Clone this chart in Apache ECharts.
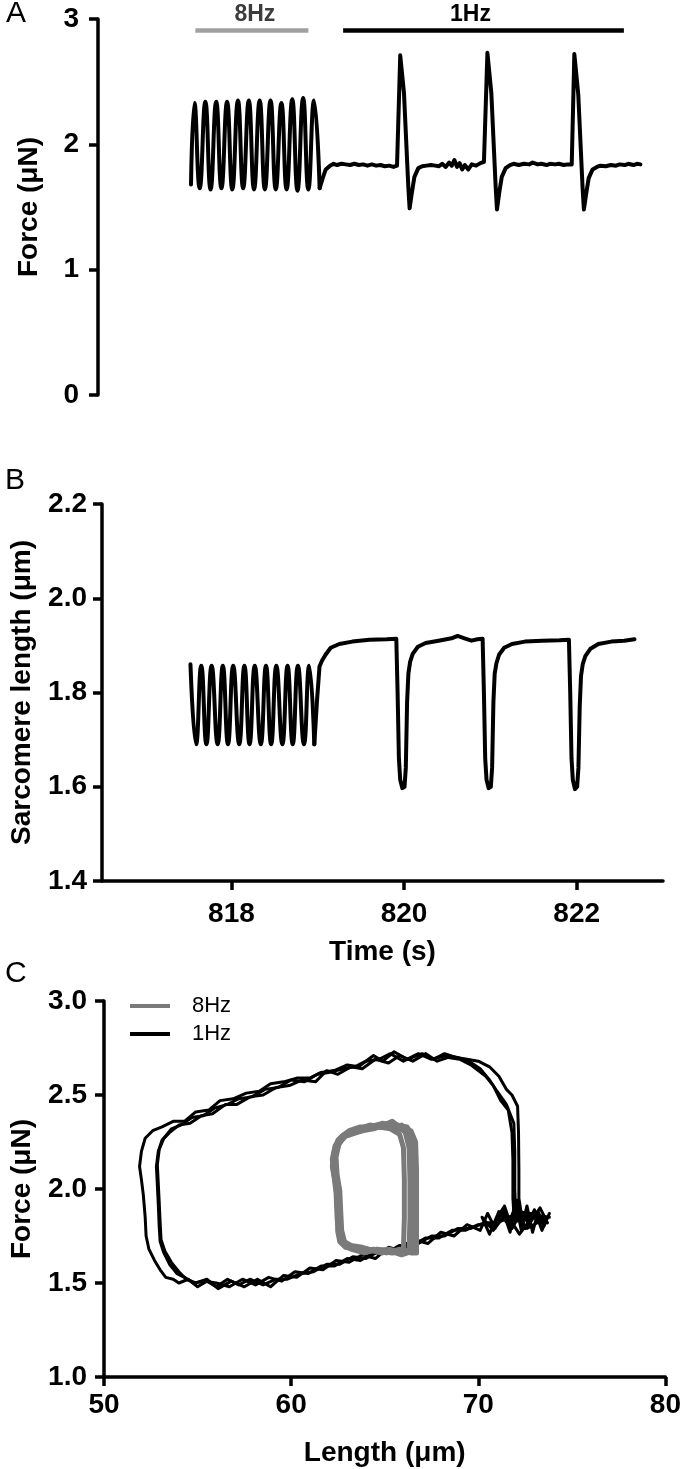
<!DOCTYPE html>
<html>
<head>
<meta charset="utf-8">
<script src="https://cdn.jsdelivr.net/npm/echarts@6/dist/echarts.min.js"></script>
<style>
html,body{margin:0;padding:0;background:#fff;}
#chart{width:684px;height:1469px;}
</style>
</head>
<body>
<div id="chart"></div>
<script>
// ---------- DATA ----------
// Panel A: force (µN) vs time (s)
const force8HzTrace = [
  [817.57,1.68],[817.61,2.33],[817.67,1.65],[817.735,2.34],[817.795,1.64],[817.86,2.34],
  [817.92,1.65],[817.985,2.34],[818.045,1.64],[818.11,2.35],[818.17,1.65],[818.235,2.35],
  [818.295,1.64],[818.36,2.35],[818.42,1.64],[818.485,2.35],[818.545,1.64],[818.61,2.33],
  [818.67,1.64],[818.735,2.36],[818.795,1.63],[818.86,2.37],[818.92,1.64],[818.985,2.35],
  [819.05,1.65]
];
const force1HzTrace = [
  [819.05,1.65],[819.085,1.73],[819.12,1.80],[819.17,1.83],[819.21,1.845],[819.25,1.835],
  [819.3,1.845],[819.35,1.84],[819.4,1.835],[819.45,1.845],[819.5,1.835],[819.55,1.84],
  [819.6,1.83],[819.65,1.84],[819.7,1.83],[819.75,1.835],[819.8,1.825],[819.85,1.83],
  [819.9,1.82],[819.94,1.83],
  [819.96,1.84],[819.977,2.71],[820.02,2.41],[820.05,1.96],[820.07,1.66],[820.085,1.49],
  [820.11,1.61],[820.14,1.74],[820.185,1.81],[820.23,1.825],[820.28,1.83],[820.33,1.835],
  [820.38,1.83],[820.42,1.825],[820.46,1.845],[820.5,1.82],[820.54,1.855],[820.57,1.83],
  [820.6,1.875],[820.63,1.82],[820.66,1.85],[820.69,1.80],[820.72,1.835],[820.76,1.80],
  [820.8,1.84],[820.85,1.83],[820.9,1.85],[820.94,1.86],
  [820.96,1.86],[820.98,2.73],[821.025,2.41],[821.055,1.96],[821.075,1.66],[821.09,1.48],
  [821.115,1.61],[821.145,1.74],[821.19,1.81],[821.24,1.835],[821.28,1.845],[821.34,1.835],
  [821.4,1.845],[821.46,1.84],[821.5,1.855],[821.56,1.84],[821.6,1.845],[821.66,1.835],
  [821.7,1.845],[821.76,1.84],[821.8,1.845],[821.86,1.835],[821.9,1.84],[821.95,1.84],
  [821.96,1.84],[821.98,2.72],[822.025,2.40],[822.055,1.95],[822.075,1.65],[822.09,1.48],
  [822.115,1.60],[822.145,1.73],[822.19,1.80],[822.24,1.82],[822.28,1.83],[822.34,1.825],
  [822.4,1.835],[822.46,1.83],[822.5,1.84],[822.56,1.835],[822.6,1.845],[822.66,1.835],
  [822.7,1.845],[822.74,1.84]
];
// stimulation period bars
const stimLabels = ['8Hz', '1Hz'];
const stimStart = [817.62, 819.32];
const stimEnd = [818.92, 822.55];
const stimLevel = 2.91;

// Panel B: sarcomere length (µm) vs time (s)
const sl8HzTrace = [
  [817.525,1.86],[817.59,1.69],[817.65,1.857],[817.71,1.69],[817.77,1.857],[817.84,1.69],
  [817.90,1.857],[817.96,1.69],[818.02,1.857],[818.09,1.69],[818.15,1.857],[818.21,1.69],
  [818.27,1.857],[818.34,1.69],[818.40,1.857],[818.46,1.69],[818.52,1.857],[818.59,1.69],
  [818.65,1.857],[818.71,1.69],[818.77,1.857],[818.84,1.69],[818.90,1.857],[818.96,1.69]
];
const sl1HzTrace = [
  [818.96,1.69],[818.99,1.78],[819.02,1.855],[819.05,1.868],[819.09,1.88],[819.15,1.895],
  [819.25,1.903],[819.4,1.908],[819.6,1.912],[819.8,1.913],[819.91,1.914],
  [819.925,1.80],[819.94,1.66],[819.955,1.615],[819.98,1.597],[820.005,1.60],[820.02,1.64],
  [820.035,1.78],[820.05,1.84],[820.07,1.865],[820.10,1.882],[820.16,1.897],[820.25,1.905],
  [820.4,1.91],[820.55,1.915],[820.62,1.92],[820.7,1.915],[820.78,1.91],[820.85,1.913],[820.91,1.914],
  [820.925,1.80],[820.94,1.66],[820.955,1.615],[820.98,1.597],[821.005,1.60],[821.02,1.64],
  [821.035,1.78],[821.05,1.84],[821.07,1.862],[821.10,1.88],[821.16,1.895],[821.25,1.903],
  [821.4,1.908],[821.6,1.91],[821.8,1.911],[821.91,1.912],
  [821.925,1.80],[821.94,1.66],[821.955,1.615],[821.98,1.595],[822.005,1.60],[822.02,1.64],
  [822.035,1.77],[822.05,1.835],[822.07,1.86],[822.10,1.877],[822.16,1.893],[822.25,1.903],
  [822.4,1.908],[822.55,1.91],[822.67,1.913]
];
const timeTicks = [818, 820, 822];

// Panel C: force (µN) vs length (µm) loops
const loop1Hz_a = [
  [73.6,1.84],[72.9,1.86],[72.3,1.87],[72.17,1.95],[72.17,2.10],[72.15,2.30],[72.1,2.44],
  [71.8,2.50],[71.5,2.53],[71.1,2.60],[70.6,2.65],[70.0,2.68],[69.4,2.69],[68.8,2.70],
  [68.2,2.72],[67.6,2.69],[67.0,2.72],[66.2,2.69],[65.5,2.73],[64.9,2.68],[64.4,2.71],
  [63.6,2.65],[63.0,2.66],[62.3,2.63],[61.6,2.62],[61.0,2.59],[60.3,2.59],[59.6,2.57],
  [58.9,2.56],[58.3,2.52],[57.6,2.51],[56.9,2.48],[56.2,2.47],[55.6,2.42],[54.9,2.41],
  [54.3,2.36],[53.7,2.36],[53.1,2.33],[52.6,2.31],[52.2,2.27],[52.0,2.20],[51.9,2.12],
  [52.0,2.05],[52.1,1.97],[52.2,1.85],[52.25,1.75],[52.4,1.68],[52.7,1.62],[53.0,1.57],
  [53.3,1.53],[53.7,1.52],[54.0,1.50],[54.5,1.52],[55.0,1.48],[55.5,1.51],[56.0,1.48],
  [56.6,1.52],[57.2,1.49],[57.8,1.52],[58.5,1.49],[59.2,1.52],[59.8,1.52],[60.5,1.55],
  [61.2,1.56],[61.9,1.60],[62.6,1.60],[63.3,1.64],[64.0,1.63],[64.7,1.67],[65.4,1.67],
  [66.1,1.71],[66.8,1.71],[67.5,1.75],[68.2,1.75],[68.9,1.79],[69.6,1.79],[70.3,1.82],
  [71.0,1.82],[71.7,1.85],[72.4,1.84],[73.1,1.86],[73.8,1.85]
];
const loop1Hz_b = [
  [73.2,1.85],[72.5,1.84],[71.9,1.87],[71.85,1.95],[71.85,2.15],[71.8,2.30],[71.6,2.42],
  [71.2,2.47],[70.8,2.55],[70.4,2.60],[70.0,2.63],[69.6,2.66],[69.0,2.69],[68.4,2.70],
  [67.8,2.68],[67.2,2.72],[66.5,2.68],[65.8,2.71],[65.2,2.67],[64.5,2.69],[63.8,2.64],
  [63.2,2.65],[62.5,2.61],[61.9,2.63],[61.3,2.57],[60.6,2.58],[59.9,2.55],[59.2,2.54],
  [58.5,2.50],[57.8,2.49],[57.1,2.45],[56.5,2.45],[55.8,2.40],[55.2,2.39],[54.6,2.35],
  [54.0,2.34],[53.5,2.30],[53.1,2.26],[52.9,2.20],[52.8,2.12],[52.85,2.02],[52.9,1.92],
  [52.95,1.80],[53.0,1.72],[53.2,1.66],[53.5,1.60],[53.9,1.55],[54.3,1.53],[54.8,1.50],
  [55.4,1.51],[56.0,1.50],[56.7,1.48],[57.4,1.52],[58.1,1.49],[58.8,1.53],[59.5,1.51],
  [60.2,1.56],[60.9,1.55],[61.6,1.59],[62.3,1.59],[63.0,1.63],[63.7,1.62],[64.4,1.66],
  [65.1,1.66],[65.8,1.70],[66.5,1.70],[67.2,1.74],[67.9,1.74],[68.6,1.78],[69.3,1.78],
  [70.0,1.81],[70.7,1.81],[71.4,1.84],[72.1,1.83],[72.8,1.86],[73.5,1.83]
];
const loop1Hz_c = [
  [73.5,1.83],[72.8,1.87],[72.0,1.88],[71.95,2.0],[71.95,2.20],[71.9,2.35],[71.5,2.45],
  [71.0,2.52],[70.6,2.58],[70.1,2.64],[69.5,2.68],[68.9,2.70],[68.3,2.71],[67.5,2.69],
  [66.8,2.72],[66.0,2.68],[65.3,2.72],[64.7,2.69],[64.0,2.68],[63.4,2.65],[62.8,2.64],
  [62.0,2.62],[61.4,2.61],[60.7,2.57],[60.0,2.58],[59.3,2.54],[58.6,2.53],[57.9,2.49],
  [57.2,2.48],[56.6,2.45],[55.9,2.43],[55.3,2.39],[54.7,2.38],[54.1,2.34],[53.6,2.32],
  [53.2,2.27],[52.95,2.21],[52.85,2.13],[52.9,2.03],[52.95,1.93],[53.0,1.82],[53.05,1.73],
  [53.25,1.67],[53.6,1.61],[54.0,1.56],[54.4,1.52],[54.9,1.50],[55.5,1.52],[56.1,1.47],
  [56.8,1.51],[57.5,1.48],[58.2,1.52],[58.9,1.48],[59.6,1.54],[60.3,1.53],[61.0,1.58],
  [61.7,1.57],[62.4,1.62],[63.1,1.61],[63.8,1.65],[64.5,1.63],[65.2,1.69],[65.9,1.67],
  [66.6,1.73],[67.3,1.71],[68.0,1.77],[68.7,1.75],[69.4,1.81],[70.1,1.78],[70.5,1.87],
  [70.9,1.79],[71.3,1.89],[71.7,1.77],[72.0,1.93],[72.3,1.78],[72.6,1.91],[72.9,1.77],
  [73.2,1.88],[73.5,1.80],[73.8,1.87],[73.4,1.78],[73.0,1.89],[72.5,1.79],[72.1,1.94],
  [71.6,1.81],[71.1,1.88],[70.6,1.76],[70.2,1.85],[70.8,1.78],[71.5,1.87],[72.2,1.76],
  [72.9,1.85],[73.7,1.82],[73.3,1.90],[72.7,1.81],[72.3,1.88],[71.8,1.79],[71.4,1.91],
  [70.9,1.83],[71.9,1.86],[72.6,1.79],[73.5,1.84]
];
const loop8Hz_a = [
  [66.6,1.68],[66.65,1.80],[66.65,2.0],[66.6,2.2],[66.5,2.28],[66.2,2.33],[65.7,2.34],
  [65.2,2.35],[64.6,2.34],[64.0,2.33],[63.4,2.31],[62.9,2.29],[62.5,2.26],[62.3,2.20],
  [62.2,2.12],[62.35,2.05],[62.45,1.95],[62.5,1.85],[62.5,1.77],[62.6,1.72],[62.9,1.69],
  [63.4,1.68],[64.0,1.67],[64.7,1.67],[65.4,1.66],[66.0,1.67],[66.6,1.68]
];
const loop8Hz_b = [
  [66.3,1.67],[66.35,1.85],[66.35,2.05],[66.3,2.22],[66.1,2.30],[65.8,2.33],[65.4,2.36],
  [64.8,2.33],[64.2,2.34],[63.6,2.32],[63.0,2.30],[62.6,2.27],[62.4,2.22],[62.3,2.15],
  [62.35,2.08],[62.55,2.0],[62.6,1.90],[62.6,1.80],[62.7,1.74],[63.0,1.70],[63.5,1.69],
  [64.1,1.68],[64.8,1.66],[65.5,1.67],[66.0,1.66],[66.3,1.67]
];
const loop8Hz_c = [
  [66.7,1.66],[66.7,1.9],[66.7,2.1],[66.65,2.25],[66.4,2.31],[65.6,2.32],[65.0,2.34],
  [64.4,2.32],[63.8,2.31],[63.2,2.30],[62.7,2.27],[62.45,2.21],[62.25,2.16],[62.3,2.06],
  [62.4,1.98],[62.45,1.86],[62.5,1.78],[62.65,1.73],[63.1,1.69],[63.7,1.67],[64.4,1.68],
  [65.1,1.66],[65.8,1.68],[66.4,1.66],[66.7,1.66]
];
const loop8Hz_d = [
  [66.0,1.68],[66.05,1.85],[66.05,2.05],[66.0,2.22],[65.8,2.29],[65.3,2.32],[64.7,2.33],
  [64.1,2.32],[63.5,2.30],[62.9,2.28],[62.55,2.24],[62.4,2.17],[62.45,2.08],[62.6,1.99],
  [62.65,1.88],[62.7,1.78],[62.85,1.72],[63.2,1.70],[63.8,1.69],[64.5,1.67],[65.2,1.68],
  [65.7,1.67],[66.0,1.68]
];
const loop8Hz_e = [
  [66.5,1.67],[66.5,1.82],[66.5,2.02],[66.45,2.2],[66.3,2.29],[65.9,2.34],[65.4,2.33],
  [64.9,2.35],[64.3,2.33],[63.7,2.33],[63.1,2.31],[62.7,2.28],[62.35,2.23],[62.2,2.16],
  [62.25,2.09],[62.4,2.02],[62.5,1.92],[62.55,1.82],[62.6,1.75],[62.75,1.71],[63.2,1.68],
  [63.9,1.66],[64.6,1.68],[65.3,1.67],[65.9,1.65],[66.5,1.67]
];

// ---------- CHART ----------
const FONT = '"Liberation Sans", Arial, Helvetica, sans-serif';
const chart = echarts.init(document.getElementById('chart'), null, {renderer: 'canvas'});

const axisLineStyle = {show: true, lineStyle: {color: '#000', width: 3.5}};
const axisTickStyle = {show: true, length: 9, lineStyle: {color: '#000', width: 3.5}};
const tickLabelStyle = {color: '#000', fontFamily: FONT, fontWeight: 'bold', fontSize: 28};
const nameStyle = {color: '#000', fontFamily: FONT, fontWeight: 'bold', fontSize: 28};

function lineSeries(name, data, xi, yi, color, width, smooth) {
  return {
    name: name, type: 'line', data: data, xAxisIndex: xi, yAxisIndex: yi,
    symbol: 'none', showSymbol: false, smooth: smooth || false,
    lineStyle: {color: color, width: width, cap: 'round', join: 'round'},
    itemStyle: {color: color}, color: color, animation: false, clip: false
  };
}

const stimMarks = stimLabels.map(function (lab, i) {
  const col = i === 0 ? '#a0a0a0' : '#000';
  const txt = i === 0 ? '#3c3c3c' : '#000';
  const style = {color: col, width: 4.5, type: 'solid'};
  const label = {
    show: true, position: 'middle', distance: 4, formatter: lab,
    color: txt, fontFamily: FONT, fontWeight: 'bold', fontSize: 23,
    padding: i === 0 ? [0, 0, 0, 6] : [0, 26, 0, 0]
  };
  return [
    {coord: [stimStart[i], stimLevel], lineStyle: style, label: label},
    {coord: [stimEnd[i], stimLevel], lineStyle: style, label: label}
  ];
});

const forceA1 = lineSeries('forceA1Hz', force1HzTrace, 0, 0, '#000', 4, false);
forceA1.markLine = {silent: true, symbol: ['none', 'none'], animation: false, data: stimMarks};

const option = {
  animation: false,
  backgroundColor: '#fff',
  title: [
    {text: 'A', left: 6, top: -1, padding: 0, textStyle: {fontSize: 30, fontWeight: 'normal', color: '#000', fontFamily: FONT}},
    {text: 'B', left: 5, top: 466, padding: 0, textStyle: {fontSize: 30, fontWeight: 'normal', color: '#000', fontFamily: FONT}},
    {text: 'C', left: 5, top: 959, padding: 0, textStyle: {fontSize: 30, fontWeight: 'normal', color: '#000', fontFamily: FONT}}
  ],
  legend: {
    data: ['8Hz', '1Hz'],
    orient: 'vertical', left: 125, top: 990,
    icon: 'rect', itemWidth: 40, itemHeight: 4, itemGap: 6,
    textStyle: {color: '#000', fontFamily: FONT, fontSize: 22, padding: [0, 0, 0, 17]},
    selectedMode: false
  },
  grid: [
    {left: 98, top: 19, width: 565, height: 376},
    {left: 98, top: 504, width: 565, height: 377},
    {left: 100, top: 1001, width: 567, height: 376}
  ],
  xAxis: [
    {gridIndex: 0, type: 'value', min: 816.5, max: 823, show: false, splitLine: {show: false}},
    {gridIndex: 1, type: 'value', min: 816.5, max: 823,
      axisLine: axisLineStyle,
      axisTick: Object.assign({}, axisTickStyle, {customValues: timeTicks}),
      axisLabel: Object.assign({}, tickLabelStyle, {customValues: timeTicks, margin: 19}),
      splitLine: {show: false},
      name: 'Time (s)', nameLocation: 'middle', nameGap: 57, nameTextStyle: nameStyle},
    {gridIndex: 2, type: 'value', min: 50, max: 80, interval: 10,
      axisLine: axisLineStyle, axisTick: axisTickStyle,
      axisLabel: Object.assign({}, tickLabelStyle, {margin: 14}),
      splitLine: {show: false},
      name: 'Length (μm)', nameLocation: 'middle', nameGap: 62, nameTextStyle: nameStyle}
  ],
  yAxis: [
    {gridIndex: 0, type: 'value', min: 0, max: 3, interval: 1,
      axisLine: axisLineStyle, axisTick: axisTickStyle,
      axisLabel: Object.assign({}, tickLabelStyle, {margin: 19}),
      splitLine: {show: false},
      name: 'Force (μN)', nameLocation: 'middle', nameGap: 55, nameRotate: 90, nameTextStyle: nameStyle},
    {gridIndex: 1, type: 'value', min: 1.4, max: 2.2, interval: 0.2,
      axisLine: axisLineStyle, axisTick: axisTickStyle,
      axisLabel: Object.assign({}, tickLabelStyle, {margin: 15, formatter: function (v) { return v.toFixed(1); }}),
      splitLine: {show: false},
      name: 'Sarcomere length (μm)', nameLocation: 'middle', nameGap: 66, nameRotate: 90, nameTextStyle: nameStyle},
    {gridIndex: 2, type: 'value', min: 1.0, max: 3.0, interval: 0.5,
      axisLine: axisLineStyle, axisTick: axisTickStyle,
      axisLabel: Object.assign({}, tickLabelStyle, {margin: 17, formatter: function (v) { return v.toFixed(1); }}),
      splitLine: {show: false},
      name: 'Force (μN)', nameLocation: 'middle', nameGap: 68, nameRotate: 90, nameTextStyle: nameStyle}
  ],
  series: [
    lineSeries('forceA8Hz', force8HzTrace, 0, 0, '#000', 4, 0.5),
    forceA1,
    lineSeries('slB8Hz', sl8HzTrace, 1, 1, '#000', 4, 0.5),
    lineSeries('slB1Hz', sl1HzTrace, 1, 1, '#000', 4, false),
    lineSeries('1Hz', loop1Hz_a, 2, 2, '#000', 3, false),
    lineSeries('1Hz', loop1Hz_b, 2, 2, '#000', 3, false),
    lineSeries('1Hz', loop1Hz_c, 2, 2, '#000', 3, false),
    lineSeries('8Hz', loop8Hz_a, 2, 2, '#7a7a7a', 5, false),
    lineSeries('8Hz', loop8Hz_b, 2, 2, '#7a7a7a', 5, false),
    lineSeries('8Hz', loop8Hz_c, 2, 2, '#7a7a7a', 5, false),
    lineSeries('8Hz', loop8Hz_d, 2, 2, '#7a7a7a', 5, false),
    lineSeries('8Hz', loop8Hz_e, 2, 2, '#7a7a7a', 5, false)
  ]
};
chart.setOption(option);
</script>
</body>
</html>
